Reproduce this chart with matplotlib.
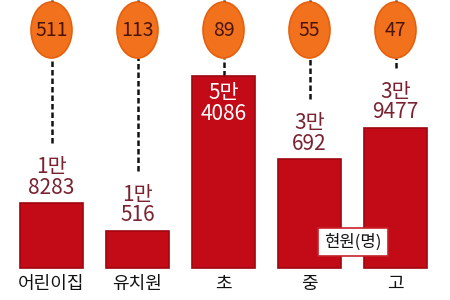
import matplotlib
matplotlib.use("Agg")
import matplotlib.pyplot as plt
from matplotlib.patches import Ellipse

plt.rcParams['font.family'] = ['Noto Sans CJK KR', 'DejaVu Sans']

categories = ['어린이집', '유치원', '초', '중', '고']
enrolled = [18283, 10516, 54086, 30692, 39477]
enrolled_labels = ['1만\n8283', '1만\n516', '5만\n4086', '3만\n692', '3만\n9477']
circle_values = [511, 113, 89, 55, 47]
box_label = '현원(명)'

W, H = 450, 300
fig = plt.figure(figsize=(W / 100, H / 100), dpi=100)
ax = fig.add_axes([0, 0, 1, 1])
ax.axis('off')

px_x = 86.0
px_val = 281.0
x0 = 51.5
base = 32
ax.set_xlim(-x0 / px_x, (W - x0) / px_x)
ax.set_ylim(-base * px_val, (H - base) * px_val)

bar_red = '#C20B16'
label_col = '#7A2230'
xs = list(range(len(categories)))
ax.bar(xs, enrolled, width=63 / px_x, color=bar_red, edgecolor='#A0060E',
       linewidth=1.2, zorder=2)

circ_y = (H - base - 30) * px_val
circ_w = 41 / px_x
circ_h = 56 * px_val
top = (H - base) * px_val

for i, v in enumerate(enrolled):
    inside = (v == max(enrolled))
    ax.plot([i, i], [circ_y + circ_h / 2, top], color='#111111', lw=1.8,
            ls=(0, (2.2, 1.2)), zorder=1)
    end = v if inside else v + 60 * px_val
    ax.plot([i, i], [end, circ_y - circ_h / 2], color='#111111', lw=1.8,
            ls=(0, (2.2, 1.2)), zorder=1)
    e = Ellipse((i, circ_y), circ_w, circ_h, facecolor='#F2711C',
                edgecolor='#E5600E', lw=1.2, zorder=3)
    ax.add_patch(e)
    ax.text(i, circ_y, str(circle_values[i]), ha='center', va='center',
            fontsize=14, color='#4A1408', zorder=4)
    if inside:
        ax.annotate(enrolled_labels[i], xy=(i, v), xytext=(0, -5),
                    textcoords='offset points', ha='center', va='top',
                    fontsize=15, color='white', linespacing=0.9, zorder=4)
    else:
        ax.annotate(enrolled_labels[i], xy=(i, v), xytext=(0, 3),
                    textcoords='offset points', ha='center', va='bottom',
                    fontsize=15, color=label_col, linespacing=0.9, zorder=4)
    ax.annotate(categories[i], xy=(i, 0), xytext=(0, -5),
                textcoords='offset points', ha='center', va='top',
                fontsize=13, color='#111111')

fig.text(353 / W, 1 - 242 / H, box_label, ha='center', va='center',
         fontsize=12, color='#111111', zorder=5,
         bbox=dict(boxstyle='square,pad=0.35', facecolor='white',
                   edgecolor='#C8202A', lw=1.2))

fig.savefig('out.png', dpi=100, facecolor='white')
